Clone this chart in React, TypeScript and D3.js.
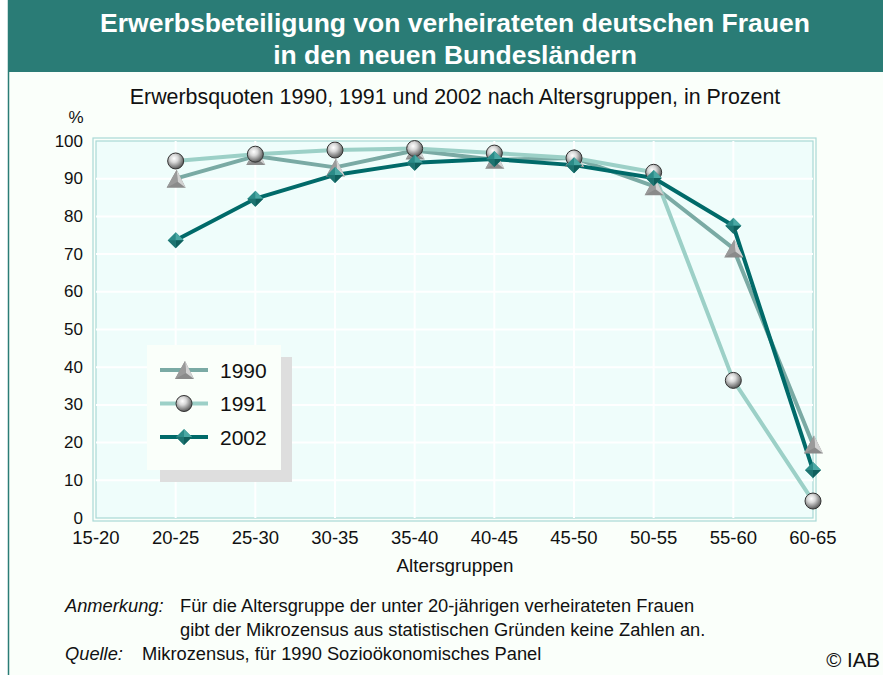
import React, { useEffect } from 'react';
import * as d3 from 'd3';

const categories = ['15-20', '20-25', '25-30', '30-35', '35-40', '40-45', '45-50', '50-55', '55-60', '60-65'];
// no value for 15-20
const values1990 = [null, 90, 96, 93, 97.5, 95, 95.5, 88, 71.5, 19.5];
const values1991 = [null, 94.7, 96.5, 97.6, 98, 96.8, 95.5, 91.7, 36.5, 4.5];
const values2002 = [null, 73.7, 84.7, 91, 94.2, 95.2, 93.6, 90.2, 77.5, 12.7];
const yTicks = [0, 10, 20, 30, 40, 50, 60, 70, 80, 90, 100];
const seriesNames = ['1990', '1991', '2002'];

const FONT = 'Liberation Sans, Arial, Helvetica, sans-serif';

function Marker({ kind, x, y }: { kind: string; x: number; y: number }) {
  if (kind === 'circle') {
    return (
      <g transform={`translate(${x},${y})`}>
        <circle r={8} fill="url(#sphere)" stroke="#333" strokeWidth={1} />
      </g>
    );
  }
  if (kind === 'diamond') {
    return (
      <g transform={`translate(${x},${y})`}>
        <path d="M0,-8 L8,0 L0,8 L-8,0 Z" fill="#2b8b88" />
        <path d="M0,-8 L8,0 L0,0 Z" fill="#4aa8a4" />
        <path d="M0,8 L8,0 L0,0 Z" fill="#0f5f5c" />
        <path d="M0,8 L-8,0 L0,0 Z" fill="#1d7370" />
      </g>
    );
  }
  // triangle / tent
  return (
    <g transform={`translate(${x},${y})`}>
      <path d="M1,-9 L10,9 L-9,9 Z" fill="#8a8a8a" />
      <path d="M1,-9 L10,9 L2,3 Z" fill="#d2d2d2" />
      <path d="M1,-9 L2,3 L-9,9 Z" fill="#9a9a9a" />
    </g>
  );
}

export default function App() {
  useEffect(() => {
    document.body.style.margin = '0';
  }, []);

  const W = 883;
  const H = 675;
  const x = d3.scalePoint<string>().domain(categories).range([96, 813]);
  const y = d3.scaleLinear().domain([0, 100]).range([518, 141]);

  const series = [
    { name: seriesNames[0], values: values1990, color: '#7aaaa4', marker: 'triangle' },
    { name: seriesNames[1], values: values1991, color: '#9cd0c7', marker: 'circle' },
    { name: seriesNames[2], values: values2002, color: '#006a69', marker: 'diamond' },
  ];

  const line = d3
    .line<number | null>()
    .defined((d) => d != null)
    .x((_, i) => x(categories[i]) as number)
    .y((d) => y(d as number));

  const [x0, x1] = x.range();
  const [yb, yt] = y.range();

  return (
    <svg width={W} height={H} style={{ display: 'block' }} fontFamily={FONT}>
      <defs>
        <radialGradient id="sphere" cx="0.4" cy="0.35" r="0.7">
          <stop offset="0" stopColor="#ffffff" />
          <stop offset="0.35" stopColor="#d8d8d8" />
          <stop offset="1" stopColor="#4a4a4a" />
        </radialGradient>
      </defs>
      <rect x={0} y={0} width={W} height={H} fill="#ffffff" />
      <rect x={8} y={0} width={W - 8} height={H} fill="#fafffa" />
      <line x1={8.5} x2={8.5} y1={0} y2={H} stroke="#2a7c76" strokeWidth={1.5} />
      <rect x={8} y={0} width={W - 8} height={72} fill="#2a7c76" />
      <text x={455} y={32} textAnchor="middle" fill="#fff" fontWeight="bold" fontSize={26.5}>
        Erwerbsbeteiligung von verheirateten deutschen Frauen
      </text>
      <text x={455} y={64} textAnchor="middle" fill="#fff" fontWeight="bold" fontSize={26.5}>
        in den neuen Bundesländern
      </text>
      <text x={455} y={104} textAnchor="middle" fill="#111" fontSize={21.4}>
        Erwerbsquoten 1990, 1991 und 2002 nach Altersgruppen, in Prozent
      </text>
      <text x={76} y={123} textAnchor="middle" fill="#111" fontSize={17}>%</text>

      {/* plot area */}
      <rect x={x0 - 3} y={yt - 3} width={x1 - x0 + 6} height={yb - yt + 6} fill="none" stroke="#a9d9d6" strokeWidth={1.2} />
      <rect x={x0} y={yt} width={x1 - x0} height={yb - yt} fill="#effdfb" stroke="#a9d9d6" strokeWidth={1.2} />
      {yTicks.slice(1, -1).map((t) => (
        <line key={t} x1={x0} x2={x1} y1={y(t)} y2={y(t)} stroke="#fff" strokeWidth={2} />
      ))}
      {categories.slice(1, -1).map((c) => (
        <line key={c} x1={x(c)} x2={x(c)} y1={yt} y2={yb} stroke="#fff" strokeWidth={2} />
      ))}
      {yTicks.map((t) => (
        <text key={t} x={83} y={y(t) + 5.5} textAnchor="end" fontSize={17} fill="#111">{t}</text>
      ))}
      {categories.map((c) => (
        <text key={c} x={x(c)} y={544} textAnchor="middle" fontSize={18.5} fill="#111">{c}</text>
      ))}
      <text x={455} y={572} textAnchor="middle" fontSize={18.8} fill="#111">Altersgruppen</text>

      {/* legend */}
      <rect x={160} y={357} width={132} height={125} fill="#dedede" />
      <rect x={147} y={345} width={134} height={125} fill="#fafffa" />
      {series.map((s, i) => {
        const ly = 370 + i * 33.5;
        return (
          <g key={s.name}>
            <line x1={160} x2={208} y1={ly} y2={ly} stroke={s.color} strokeWidth={4} />
            <Marker kind={s.marker} x={184} y={ly} />
            <text x={220} y={ly + 7.5} fontSize={21} fill="#111">{s.name}</text>
          </g>
        );
      })}

      {/* lines */}
      {series.map((s) => (
        <path key={s.name} d={line(s.values) || ''} fill="none" stroke={s.color} strokeWidth={4} strokeLinejoin="round" />
      ))}
      {series.map((s) =>
        s.values.map((v, i) =>
          v == null ? null : <Marker key={s.name + i} kind={s.marker} x={x(categories[i]) as number} y={y(v)} />
        )
      )}

      {/* notes */}
      <text x={65} y={612} fontSize={18.3} fontStyle="italic" fill="#111">Anmerkung:</text>
      <text x={180} y={612} fontSize={18.3} fill="#111">Für die Altersgruppe der unter 20-jährigen verheirateten Frauen</text>
      <text x={180} y={636} fontSize={18.3} fill="#111">gibt der Mikrozensus aus statistischen Gründen keine Zahlen an.</text>
      <text x={65} y={660} fontSize={18.3} fontStyle="italic" fill="#111">Quelle:</text>
      <text x={142} y={660} fontSize={18.3} fill="#111">Mikrozensus, für 1990 Sozioökonomisches Panel</text>
      <text x={880} y={667} textAnchor="end" fontSize={20.5} fill="#111">© IAB</text>
    </svg>
  );
}
